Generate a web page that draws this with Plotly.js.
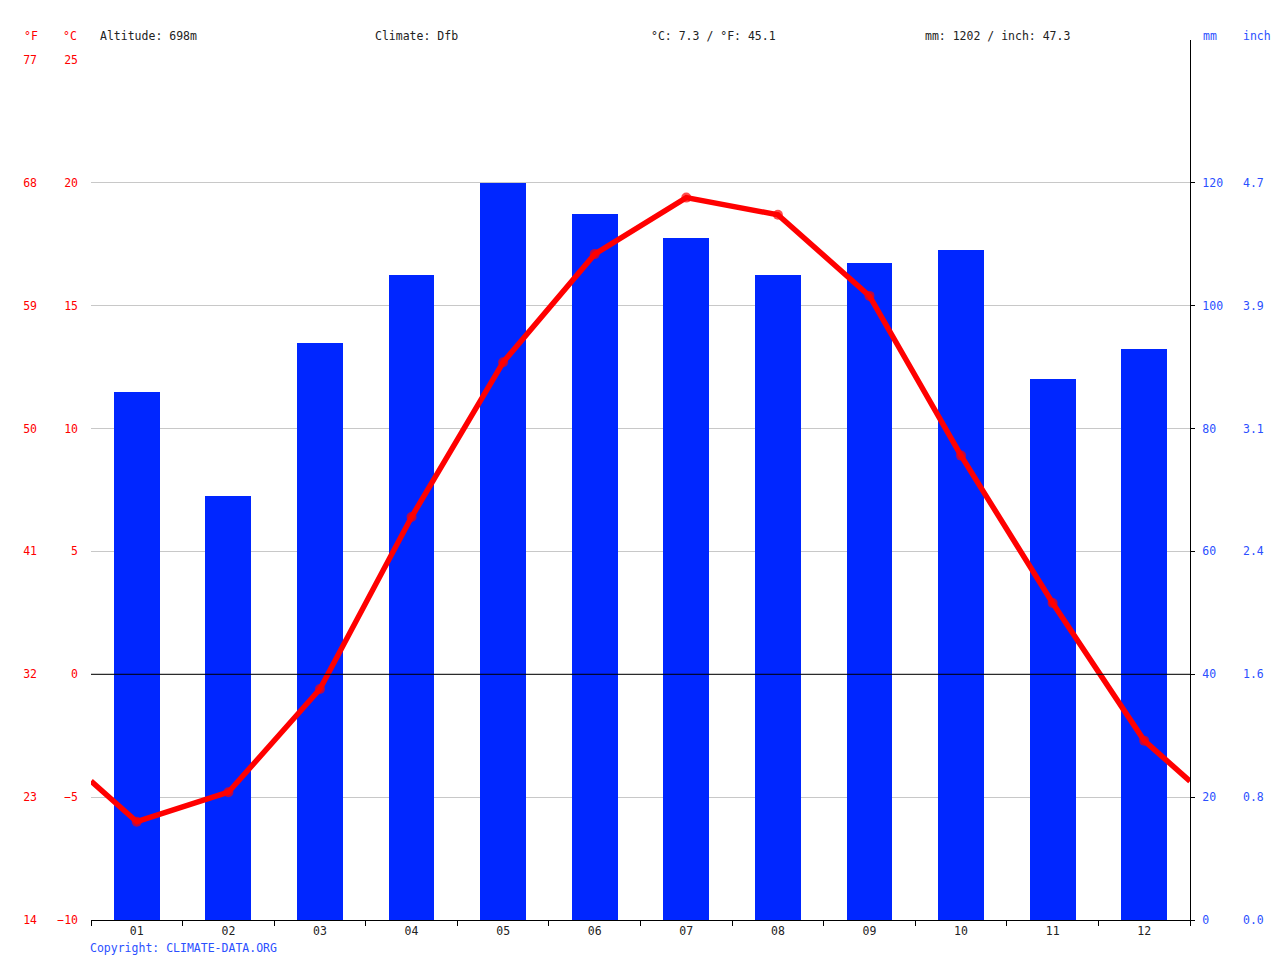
<!DOCTYPE html>
<html>
<head>
<meta charset="utf-8">
<script src="https://cdn.plot.ly/plotly-3.0.1.min.js"></script>
<style>
  html, body { margin: 0; padding: 0; background: #fff; }
  #chart { width: 1280px; height: 960px; }
</style>
</head>
<body>
<div id="chart"></div>
<script>
// monthly data
var months = ['01', '02', '03', '04', '05', '06', '07', '08', '09', '10', '11', '12'];
var precipMm = [86, 69, 94, 105, 120, 115, 111, 105, 107, 109, 88, 93];
var tempC = [-6.0, -4.8, -0.6, 6.4, 12.7, 17.1, 19.4, 18.7, 15.4, 8.9, 2.9, -2.7];
// where the temperature line meets the left and right plot edges
var tempEdge = -4.35;

// axis ticks and their labels
var celsiusTicks = [-10, -5, 0, 5, 10, 15, 20, 25];
var fahrenheitLabels = ['14', '23', '32', '41', '50', '59', '68', '77'];
var mmTicks = [0, 20, 40, 60, 80, 100, 120];
var inchLabels = ['0.0', '0.8', '1.6', '2.4', '3.1', '3.9', '4.7'];

// header texts
var altitudeText = 'Altitude: 698m';
var climateText = 'Climate: Dfb';
var tempSummary = '°C: 7.3 / °F: 45.1';
var precipSummary = 'mm: 1202 / inch: 47.3';
var copyrightText = 'Copyright: CLIMATE-DATA.ORG';

var FONT = 'DejaVu Sans Mono, monospace';
var RED = '#ff0000';
var BLUE_TXT = '#2b50ff';
var BAR_BLUE = '#0026ff';

// page layout in pixels
var W = 1280, H = 960;
var M = { l: 20, r: 10, t: 60, b: 40 };
var plotW = W - M.l - M.r, plotH = H - M.t - M.b;
function px(x) { return (x - M.l) / plotW; }
function py(y) { return (H - M.b - y) / plotH; }

var monthPos = months.map(function (m, i) { return i + 1; });
var lineX = [0.5].concat(monthPos, [12.5]);
var lineY = [tempEdge].concat(tempC, [tempEdge]);
var markerSizes = lineX.map(function (x, i) { return (i == 0 || i == lineX.length - 1) ? 0 : 10; });

var bars = {
    type: 'bar',
    x: monthPos,
    y: precipMm,
    width: 0.5,
    marker: { color: BAR_BLUE, line: { width: 0 } },
    xaxis: 'x', yaxis: 'y',
    hoverinfo: 'skip'
};
var tempLine = {
    type: 'scatter',
    mode: 'lines+markers',
    x: lineX,
    y: lineY,
    line: { color: RED, width: 5.5 },
    marker: { color: RED, size: markerSizes, line: { width: 0 } },
    xaxis: 'x', yaxis: 'y2',
    cliponaxis: false,
    hoverinfo: 'skip'
};
// empty traces so the extra axes get drawn
var fAxisHolder = { type: 'scatter', x: [], y: [], xaxis: 'x', yaxis: 'y3', showlegend: false };
var inchAxisHolder = { type: 'scatter', x: [], y: [], xaxis: 'x', yaxis: 'y4', showlegend: false };

var layout = {
    width: W, height: H,
    margin: M,
    showlegend: false,
    plot_bgcolor: '#fff',
    paper_bgcolor: '#fff',
    font: { family: FONT, size: 11.5, color: '#222' },
    bargap: 0,
    xaxis: {
        domain: [px(91), px(1190)],
        range: [0.5, 12.5],
        tickmode: 'array',
        tickvals: monthPos,
        ticktext: months,
        ticks: '',
        tickfont: { family: FONT, size: 11.5, color: '#222' },
        showgrid: false,
        zeroline: false,
        showline: true,
        linecolor: '#000',
        linewidth: 1,
        minor: { ticks: 'outside', ticklen: 5, tickcolor: '#000', tick0: 0.5, dtick: 1, showgrid: false }
    },
    // mm, right side
    yaxis: {
        range: [0, 140],
        side: 'right',
        anchor: 'x',
        tickmode: 'array',
        tickvals: mmTicks,
        ticks: 'outside',
        ticklen: 4,
        tickcolor: '#000',
        tickfont: { family: FONT, size: 11.5, color: BLUE_TXT },
        ticklabelstandoff: 5,
        showgrid: false,
        zeroline: false,
        showline: true,
        linecolor: '#000',
        linewidth: 1
    },
    // °C, left side
    yaxis2: {
        overlaying: 'y',
        side: 'left',
        anchor: 'x',
        range: [-10, 25],
        tickmode: 'array',
        tickvals: celsiusTicks,
        ticks: '',
        tickfont: { family: FONT, size: 11.5, color: RED },
        ticklabelstandoff: 12,
        showgrid: true,
        gridcolor: '#c8c8c8',
        gridwidth: 1,
        zeroline: false,
        showline: false
    },
    // °F, far left
    yaxis3: {
        overlaying: 'y',
        side: 'left',
        anchor: 'free',
        position: px(37),
        range: [-10, 25],
        tickmode: 'array',
        tickvals: celsiusTicks,
        ticktext: fahrenheitLabels,
        ticks: '',
        tickfont: { family: FONT, size: 11.5, color: RED },
        showgrid: false,
        zeroline: false,
        showline: false
    },
    // inch, far right
    yaxis4: {
        overlaying: 'y',
        side: 'right',
        anchor: 'free',
        position: px(1242),
        range: [0, 140],
        tickmode: 'array',
        tickvals: mmTicks,
        ticktext: inchLabels,
        ticks: '',
        tickfont: { family: FONT, size: 11.5, color: BLUE_TXT },
        showgrid: false,
        zeroline: false,
        showline: false
    },
    shapes: [
        // 0 °C line
        { type: 'line', xref: 'x', yref: 'y2', x0: 0.5, x1: 12.5, y0: 0, y1: 0,
          line: { color: '#000', width: 1 }, layer: 'above' },
        // right axis line continues up past the plot top
        { type: 'line', xref: 'paper', yref: 'paper', x0: px(1190.5), x1: px(1190.5), y0: 1, y1: py(40),
          line: { color: '#000', width: 1 } }
    ],
    annotations: [
        { text: '°F', x: px(31), y: py(36), font: { color: RED } },
        { text: '°C', x: px(70), y: py(36), font: { color: RED } },
        { text: altitudeText, x: px(99), y: py(36), xanchor: 'left' },
        { text: climateText, x: px(374), y: py(36), xanchor: 'left' },
        { text: tempSummary, x: px(650), y: py(36), xanchor: 'left' },
        { text: precipSummary, x: px(924), y: py(36), xanchor: 'left' },
        { text: 'mm', x: px(1202), y: py(36), xanchor: 'left', font: { color: BLUE_TXT } },
        { text: 'inch', x: px(1242), y: py(36), xanchor: 'left', font: { color: BLUE_TXT } },
        { text: copyrightText, x: px(89), y: py(948), xanchor: 'left', font: { color: BLUE_TXT } }
    ].map(function (a) {
        a.xref = 'paper';
        a.yref = 'paper';
        a.showarrow = false;
        a.yanchor = 'middle';
        a.borderpad = 0;
        if (!a.xanchor) a.xanchor = 'center';
        a.font = Object.assign({ family: FONT, size: 11.5, color: '#222' }, a.font || {});
        return a;
    })
};

Plotly.newPlot('chart', [bars, tempLine, fAxisHolder, inchAxisHolder], layout, { staticPlot: true });
</script>
</body>
</html>
